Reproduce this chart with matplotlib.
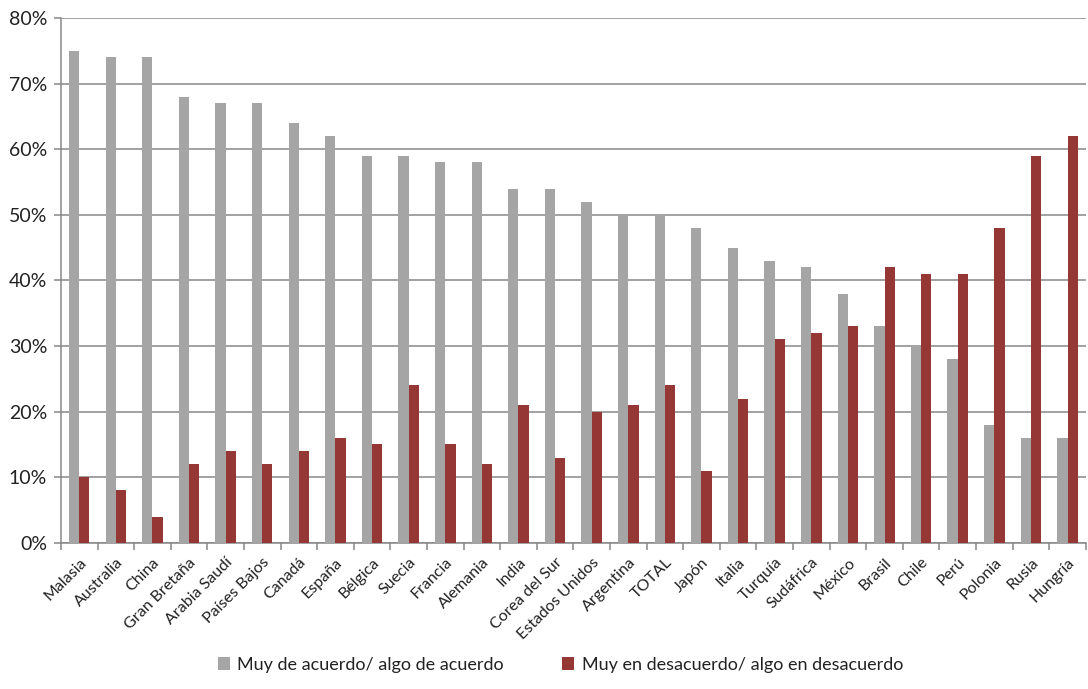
import numpy as np
import matplotlib
matplotlib.use("Agg")
import matplotlib.pyplot as plt
from matplotlib.ticker import FixedLocator, PercentFormatter

plt.rcParams["font.family"] = ["Lato", "DejaVu Sans"]

paises = ["Malasia", "Australia", "China", "Gran Bretaña", "Arabia Saudí",
          "Países Bajos", "Canadá", "España", "Bélgica", "Suecia", "Francia",
          "Alemania", "India", "Corea del Sur", "Estados Unidos", "Argentina",
          "TOTAL", "Japón", "Italia", "Turquía", "Sudáfrica", "México",
          "Brasil", "Chile", "Perú", "Polonia", "Rusia", "Hungría"]
de_acuerdo = [75, 74, 74, 68, 67, 67, 64, 62, 59, 59, 58, 58, 54, 54, 52, 50,
              50, 48, 45, 43, 42, 38, 33, 30, 28, 18, 16, 16]
en_desacuerdo = [10, 8, 4, 12, 14, 12, 14, 16, 15, 24, 15, 12, 21, 13, 20, 21,
                 24, 11, 22, 31, 32, 33, 42, 41, 41, 48, 59, 62]

gris = "#a5a5a5"
rojo = "#953735"
linea = "#878787"

fig = plt.figure(figsize=(10.88, 6.89), dpi=100)
ax = fig.add_axes([0.056, 0.212, 0.942, 0.762])

x = np.arange(len(paises))
w = 0.28
ax.bar(x - w / 2, de_acuerdo, w, color=gris, zorder=3,
       label="Muy de acuerdo/ algo de acuerdo")
ax.bar(x + w / 2, en_desacuerdo, w, color=rojo, zorder=3,
       label="Muy en desacuerdo/ algo en desacuerdo")

ax.set_xlim(-0.5, len(paises) - 0.5)
ax.set_ylim(0, 80)
ax.set_yticks(np.arange(0, 81, 10))
ax.yaxis.set_major_formatter(PercentFormatter(decimals=0))
ax.yaxis.grid(True, color=linea, linewidth=1.1, zorder=0)

# category labels at centres, tick marks on the boundaries
ax.set_xticks(x)
ax.set_xticklabels(paises, rotation=45, ha="right", rotation_mode="anchor",
                   fontsize=11.5, color="#222222")
ax.tick_params(axis="x", which="major", length=0, pad=9)
ax.xaxis.set_minor_locator(FixedLocator(np.arange(-0.5, len(paises), 1)))
ax.tick_params(axis="x", which="minor", length=5, color=linea, width=1.1)
ax.tick_params(axis="y", length=5, color=linea, width=1.1, labelsize=14,
               pad=5, labelcolor="#222222")

for s in ["top", "right"]:
    ax.spines[s].set_visible(False)
for s in ["left", "bottom"]:
    ax.spines[s].set_color(linea)
    ax.spines[s].set_linewidth(1.1)

fig.legend(loc="lower center", bbox_to_anchor=(0.515, 0.0), ncol=2,
           frameon=False, fontsize=13, handlelength=0.7, handleheight=0.7,
           handletextpad=0.4, columnspacing=3.2, labelcolor="#222222")

fig.savefig("out.png", dpi=100)
